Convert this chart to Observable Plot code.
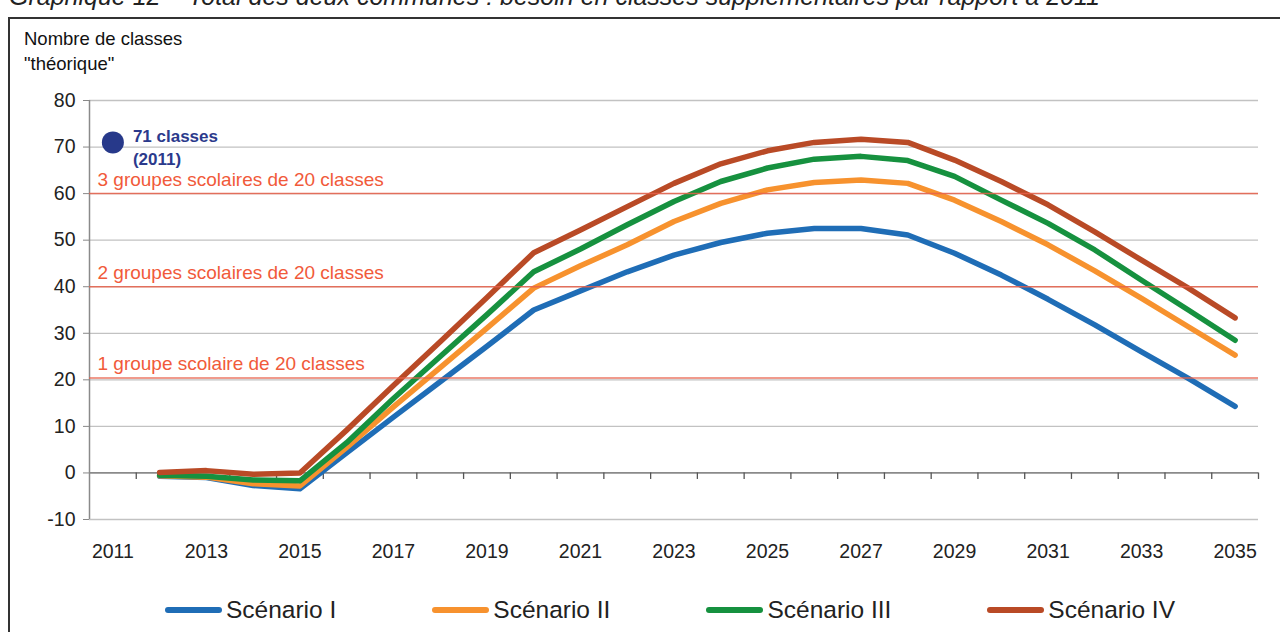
<!DOCTYPE html>
<html><head><meta charset="utf-8">
<script src="https://cdn.jsdelivr.net/npm/d3@7"></script>
<script src="https://cdn.jsdelivr.net/npm/@observablehq/plot@0.6"></script>
<style>
body{margin:0;background:#fff;font-family:"Liberation Sans",Arial,sans-serif;}
#wrap{position:relative;width:1280px;height:632px;overflow:hidden;background:#fff;}
#title{position:absolute;left:9px;top:-18px;font-style:italic;font-size:25px;line-height:29px;color:#222;white-space:nowrap;}
#frame{position:absolute;left:8px;top:17px;width:1400px;height:800px;border:2px solid #333;box-sizing:border-box;}
#ytitle{position:absolute;left:24px;top:26px;font-size:18.5px;line-height:25px;color:#111;}
#chart{position:absolute;left:0;top:0;}
#legend{position:absolute;top:596px;left:0;width:1340px;display:flex;justify-content:center;gap:96px;font-size:24.5px;line-height:28px;color:#222;}
.item{display:flex;align-items:center;}
.sw{width:57px;height:5.5px;border-radius:3px;margin-right:4px;}
</style>
</head>
<body>
<div id="wrap">
  <div id="title">Graphique 12 – Total des deux communes : besoin en classes supplémentaires par rapport à 2011</div>
  <div id="frame"></div>
  <div id="ytitle">Nombre de classes<br>"théorique"</div>
  <div id="chart"></div>
  <div id="legend"></div>
</div>
<script>
// ---- Data ----
const years = [2012,2013,2014,2015,2016,2017,2018,2019,2020,2021,2022,2023,2024,2025,2026,2027,2028,2029,2030,2031,2032,2033,2034,2035];
const scenarioI   = [-0.7,-1.0,-2.7,-3.4, 4.3,12.0,19.6,27.2,35.0,39.1,43.2,46.8,49.5,51.5,52.5,52.5,51.1,47.2,42.5,37.3,31.8,26.0,20.3,14.3];
const scenarioII  = [-0.6,-0.9,-2.3,-2.8, 5.5,14.2,22.6,31.1,39.7,44.5,49.0,54.0,57.9,60.8,62.4,62.9,62.2,58.6,54.0,49.0,43.4,37.5,31.4,25.3];
const scenarioIII = [-0.5,-0.7,-1.5,-1.7, 6.5,16.0,25.0,34.0,43.2,48.1,53.3,58.3,62.6,65.5,67.4,68.0,67.1,63.7,58.6,53.6,47.9,41.4,35.0,28.5];
const scenarioIV  = [ 0.1, 0.5,-0.3, 0.0, 9.2,18.8,28.2,37.7,47.3,52.2,57.2,62.2,66.4,69.2,71.0,71.7,71.0,67.2,62.6,57.6,51.8,45.7,39.7,33.3];
const seriesNames = ["Scénario I","Scénario II","Scénario III","Scénario IV"];
const seriesColors = ["#1f6db6","#f7922e","#16913f","#b94a26"];
const xTickLabels = [2011,2013,2015,2017,2019,2021,2023,2025,2027,2029,2031,2033,2035];
const yTicks = [-10,0,10,20,30,40,50,60,70,80];
const thresholdValues = [60,40,20.4];
const thresholdLabels = ["3 groupes scolaires de 20 classes","2 groupes scolaires de 20 classes","1 groupe scolaire de 20 classes"];
const refYear = 2011;
const refValue = 71;
const refLabel = "71 classes\n(2011)";

// ---- Build tables ----
const seriesValues = [scenarioI, scenarioII, scenarioIII, scenarioIV];
const table = [];
seriesNames.forEach((s, i) => years.forEach((y, j) => table.push({series: s, year: y, value: seriesValues[i][j]})));
const thresholds = thresholdValues.map((v, i) => ({value: v, label: thresholdLabels[i]}));
const allYears = [refYear, ...years];
const boundaries = allYears.map(y => y + 0.5);
const gridValues = yTicks.filter(v => v !== 0);
const font = '"Liberation Sans", Arial, sans-serif';

const chart = Plot.plot({
  width: 1280, height: 632,
  marginLeft: 89, marginRight: 22, marginTop: 100, marginBottom: 113,
  x: {domain: [refYear - 0.5, years[years.length - 1] + 0.5], label: null},
  y: {domain: [-10, 80], label: null},
  color: {domain: seriesNames, range: seriesColors},
  style: {fontFamily: font, background: "transparent", color: "#222"},
  marks: [
    Plot.ruleY(gridValues, {stroke: "#c2c2c2", strokeWidth: 1.3}),
    Plot.ruleX([refYear - 0.5], {y1: -10, y2: 80, stroke: "#8a8a8a", strokeWidth: 1.5}),
    Plot.ruleY([0], {stroke: "#8a8a8a", strokeWidth: 1.8}),
    Plot.ruleX(boundaries, {y1: 0, y2: -1.4, stroke: "#555", strokeWidth: 1.3}),
    Plot.axisY({ticks: yTicks, tickSize: 6, tickPadding: 8, fontSize: 19.5, stroke: "#888", fill: "#222", tickFormat: d => String(d)}),
    Plot.axisX({ticks: xTickLabels, tickSize: 0, tickPadding: 25, fontSize: 19.5, fill: "#222", tickFormat: d => String(d)}),
    Plot.line(table, {x: "year", y: "value", z: "series", stroke: "series", strokeWidth: 5.5, strokeLinecap: "round", strokeLinejoin: "round"}),
    Plot.ruleY(thresholds, {y: "value", stroke: "#e8604a", strokeWidth: 1.5, strokeOpacity: 0.85}),
    Plot.text(thresholds, {x: refYear - 0.5, y: "value", text: "label", textAnchor: "start", dx: 8, dy: -14, fill: "#f15a3a", fontSize: 19}),
    Plot.dot([{x: refYear, y: refValue}], {x: "x", y: "y", r: 11, fill: "#27398a", stroke: "none"}),
    Plot.text([{x: refYear, y: refValue, t: refLabel}], {x: "x", y: "y", text: "t", textAnchor: "start", dx: 20, dy: 4, lineHeight: 1.35, fill: "#2b3a8c", fontSize: 17, fontWeight: "bold"})
  ]
});
document.getElementById("chart").appendChild(chart);

const legend = document.getElementById("legend");
seriesNames.forEach((s, i) => {
  const it = document.createElement("div");
  it.className = "item";
  const sw = document.createElement("span");
  sw.className = "sw";
  sw.style.background = seriesColors[i];
  const tx = document.createElement("span");
  tx.textContent = s;
  it.appendChild(sw); it.appendChild(tx);
  legend.appendChild(it);
});
</script>
</body></html>
